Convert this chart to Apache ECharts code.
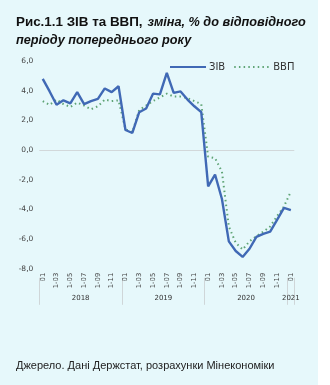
<!DOCTYPE html>
<html>
<head>
<meta charset="utf-8">
<script src="https://cdn.jsdelivr.net/npm/echarts@6/dist/echarts.min.js"></script>
<style>
  html, body { margin: 0; padding: 0; background: #ffffff; }
  #chart { width: 330px; height: 385px; }
</style>
</head>
<body>
<div id="chart"></div>
<script>
// Monthly periods, Jan 2018 – Jan 2021
const years = ['2018', '2019', '2020', '2021'];
const monthLabels = ['01', '1-02', '1-03', '1-04', '1-05', '1-06', '1-07', '1-08', '1-09', '1-10', '1-11', '1-12'];
const categories = [];
for (let y = 0; y < 3; y++) monthLabels.forEach(m => categories.push(years[y] + '|' + m));
categories.push('2021|01');

// Composite index of economic activity (ЗІВ), % y/y
const ziv = [
  4.8, 3.95, 3.05, 3.35, 3.15, 3.9, 3.1, 3.3, 3.45, 4.15, 3.9, 4.3,
  1.35, 1.15, 2.55, 2.8, 3.8, 3.75, 5.2, 3.85, 3.95, 3.4, 2.95, 2.55,
  -2.45, -1.65, -3.3, -6.15, -6.8, -7.2, -6.65, -5.85, -5.65, -5.5, -4.7, -3.9,
  -4.05
];
// Real GDP (ВВП), % y/y
const gdp = [
  3.3, 3.05, 3.4, 3.1, 2.9, 3.2, 3.0, 2.75, 2.95, 3.4, 3.3, 3.35,
  1.4, 1.2, 2.7, 3.0, 3.3, 3.55, 3.8, 3.6, 3.6, 3.5, 3.3, 3.1,
  -0.45, -0.55, -1.45, -5.15, -6.25, -6.7, -6.15, -5.8, -5.5, -5.15, -4.45, -3.8,
  -2.8
];
// Year captions and the month positions where they sit / where groups break
const yearLabelPos = [6, 18, 30, 36.5];
const yearBreaks = [0, 12, 24, 36, 37];

const yMin = -8, yMax = 6, yStep = 2;

const chart = echarts.init(document.getElementById('chart'), null, { renderer: 'canvas' });
const fmt = v => v.toFixed(1).replace('.', ',');

chart.setOption({
  backgroundColor: '#ffffff',
  animation: false,
  graphic: [{
    type: 'rect', left: 0, top: 0, z: -10,
    shape: { width: 318, height: 385 },
    style: { fill: '#e6f8fb' }
  }],
  title: [{
    left: 11, top: 8,
    text: '{b|Рис.1.1 ЗІВ та ВВП,} {i|зміна, % до відповідного}\n{i|періоду попереднього року}',
    textStyle: {
      rich: {
        b: { fontFamily: 'Liberation Sans', fontSize: 13.4, fontWeight: 'bold', color: '#111', lineHeight: 18 },
        i: { fontFamily: 'Liberation Sans', fontSize: 12.7, fontStyle: 'italic', color: '#111', lineHeight: 18 }
      }
    }
  }, {
    left: 11, top: 355,
    text: 'Джерело. Дані Держстат, розрахунки Мінекономіки',
    textStyle: { fontFamily: 'Liberation Sans', fontSize: 11, fontWeight: 'normal', color: '#222' }
  }],
  legend: {
    left: 164, top: 57,
    itemWidth: 36, itemHeight: 8, itemGap: 8,
    data: ['ЗІВ', 'ВВП'],
    itemStyle: { opacity: 0 },
    textStyle: { fontFamily: 'DejaVu Sans', fontSize: 10, color: '#333', padding: [0, 0, 0, -2] }
  },
  grid: { left: 39.3, right: 35.7, top: 61, bottom: 116.2, containLabel: false },
  xAxis: [{
    type: 'category',
    data: categories,
    boundaryGap: true,
    axisLine: { show: false },
    axisTick: { show: false },
    axisLabel: {
      interval: 1,
      rotate: 90,
      margin: 4,
      fontFamily: 'DejaVu Sans',
      fontSize: 6.8,
      color: '#444',
      formatter: v => v.split('|')[1]
    }
  }, {
    type: 'value',
    position: 'bottom',
    offset: 36,
    min: 0, max: 37,
    axisLine: { show: false },
    splitLine: { show: false },
    axisTick: {
      show: true, inside: true, length: 27,
      customValues: yearBreaks,
      lineStyle: { color: '#cfd6d8', width: 1 }
    },
    axisLabel: {
      inside: true, margin: 3,
      customValues: yearLabelPos,
      fontFamily: 'DejaVu Sans', fontSize: 7, color: '#333',
      formatter: v => years[yearLabelPos.indexOf(v)] || ''
    }
  }],
  yAxis: {
    type: 'value',
    min: yMin, max: yMax, interval: yStep,
    axisLine: { show: false },
    axisTick: { show: false },
    axisLabel: {
      margin: 6,
      fontFamily: 'DejaVu Sans', fontSize: 7.5, color: '#444',
      formatter: fmt
    },
    splitLine: {
      show: true,
      lineStyle: {
        color: ['transparent', 'transparent', 'transparent', 'transparent', '#d2d8da', 'transparent', 'transparent', 'transparent'],
        width: 1
      }
    }
  },
  series: [{
    name: 'ВВП',
    type: 'line',
    data: gdp,
    symbol: 'none',
    z: 2,
    lineStyle: { color: '#5fa475', width: 2, type: [1.5, 3.2] },
    itemStyle: { color: '#5fa475' }
  }, {
    name: 'ЗІВ',
    type: 'line',
    data: ziv,
    symbol: 'none',
    z: 3,
    lineStyle: { color: '#4069b5', width: 2.4 },
    itemStyle: { color: '#4069b5' }
  }]
});
</script>
</body>
</html>
